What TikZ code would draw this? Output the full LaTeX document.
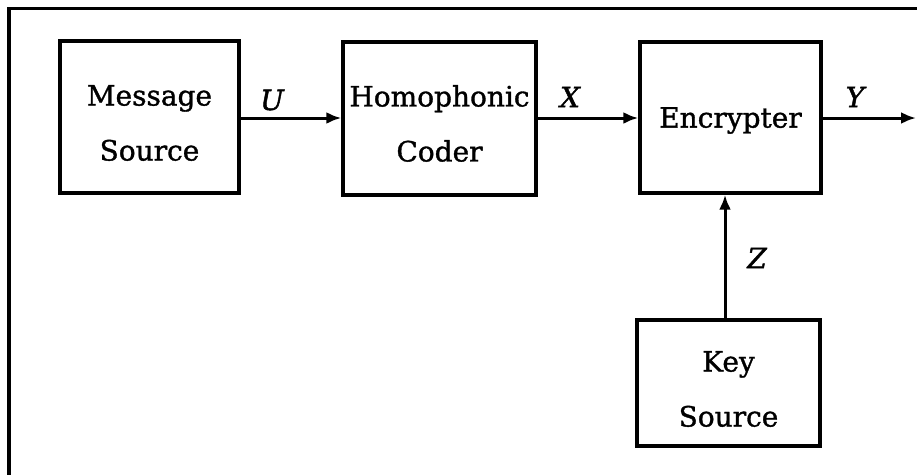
\documentclass[tikz,border=0pt]{standalone}
\usepackage{fontspec}
\setmainfont{DejaVu Serif}[FakeBold=1.2,ItalicFeatures={FakeBold=1.6}]
\usetikzlibrary{arrows.meta}
\begin{document}
\begin{tikzpicture}[x=1pt,y=-1pt,
  block/.style={draw,line width=3.4pt,rectangle,inner sep=0pt},
  txt/.style={align=center,inner sep=0pt,font=\fontsize{28}{55}\selectfont},
  flow/.style={line width=3pt,-{Latex[length=15pt,width=12pt]}},
  sig/.style={font=\fontsize{28}{30}\selectfont\itshape,inner sep=0pt}]
  \useasboundingbox (0,0) rectangle (917,475);
  % frame (top and left edges)
  \coordinate (fa) at (917,8.5);
  \coordinate (fb) at (9,8.5);
  \coordinate (fc) at (9,475);
  \draw[line width=3.4pt] (fa) -- (fb) -- (fc);
  % blocks
  \node[block,minimum width=179pt,minimum height=152pt] (msg) at (149.5,117) {};
  \node[block,minimum width=193pt,minimum height=153pt] (hom) at (439.5,118.5) {};
  \node[block,minimum width=181pt,minimum height=151pt] (enc) at (730.5,117.5) {};
  \node[block,minimum width=183pt,minimum height=126pt] (key) at (728.5,383) {};
  % block texts
  \node[txt,yshift=-6pt] (msgt) at (msg.center) {Message\\Source};
  \node[txt,yshift=-5pt] (homt) at (hom.center) {Homophonic\\Coder};
  \node[txt,yshift=-3pt] (enct) at (enc.center) {Encrypter};
  \node[txt,yshift=-6pt] (keyt) at (key.center) {Key\\Source};
  \coordinate (yend) at (916,118);
  % connectors
  \draw[flow] (msg.east |- 0,118) -- (hom.west |- 0,118);
  \draw[flow] (hom.east |- 0,118) -- (enc.west |- 0,118);
  \draw[flow] (enc.east |- yend) -- (yend);
  \draw[flow] (725,320) coordinate (kz) -- (kz |- enc.south);
  % signal labels
  \node[sig] (lu) at (272,100) {U};
  \node[sig] (lx) at (570,97) {X};
  \node[sig] (ly) at (855,97) {Y};
  \node[sig] (lz) at (757,258) {Z};
\end{tikzpicture}
\end{document}
